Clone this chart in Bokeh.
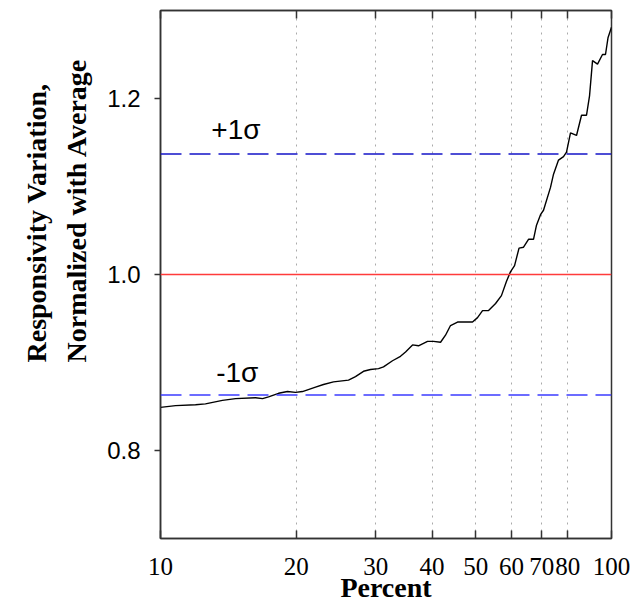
from bokeh.plotting import figure
from bokeh.models import (FixedTicker, PrintfTickFormatter, Span, Label, LogAxis, Range1d, Title)
from bokeh.embed import file_html
from bokeh.resources import INLINE

# ---- data ----
percent = [10.00, 10.80, 11.96, 12.58, 13.72, 14.67, 16.24, 16.84, 17.36, 18.27,
           19.12, 19.93, 20.64, 22.07, 22.98, 24.19, 26.11, 27.06, 28.19, 29.22,
           30.44, 31.22, 32.69, 34.05, 34.94, 36.21, 37.33, 39.09, 40.31, 41.78,
           42.85, 43.96, 45.56, 49.19, 50.46, 51.77, 53.38, 55.33, 57.01, 58.48,
           59.69, 60.96, 62.37, 63.82, 65.46, 67.15, 68.19, 69.60, 70.67, 73.24,
           74.38, 76.30, 78.27, 79.48, 81.11, 83.64, 85.81, 88.03, 89.39, 90.77,
           93.11, 95.51, 96.98, 98.23, 100.0]
responsivity = [0.849, 0.851, 0.852, 0.853, 0.857, 0.859, 0.860, 0.859, 0.861, 0.865,
                0.867, 0.866, 0.867, 0.872, 0.875, 0.878, 0.880, 0.884, 0.890, 0.892,
                0.893, 0.895, 0.902, 0.907, 0.912, 0.920, 0.919, 0.924, 0.924, 0.923,
                0.931, 0.942, 0.946, 0.946, 0.951, 0.959, 0.959, 0.967, 0.976, 0.992,
                1.003, 1.010, 1.030, 1.031, 1.040, 1.040, 1.056, 1.068, 1.073, 1.099,
                1.114, 1.130, 1.134, 1.139, 1.161, 1.158, 1.181, 1.181, 1.203, 1.243,
                1.239, 1.250, 1.250, 1.269, 1.281]
average = 1.0
plus_sigma = 1.137
minus_sigma = 0.863
x_ticks = [10, 20, 30, 40, 50, 60, 70, 80, 100]
grid_ticks = [20, 30, 40, 50, 60, 70, 80]
y_ticks = [0.8, 1.0, 1.2]
x_label = "Percent"
y_label = "Responsivity Variation,\nNormalized with Average"
plus_label = "+1\u03c3"
minus_label = "-1\u03c3"

FRAME = "#333333"

p = figure(width=633, height=605, x_axis_type="log",
           x_range=Range1d(10, 100), y_range=Range1d(0.7, 1.3),
           output_backend="svg", toolbar_location=None,
           min_border_left=160, min_border_right=22,
           min_border_top=10, min_border_bottom=67)
p.background_fill_color = "white"
p.border_fill_color = "white"
p.outline_line_color = FRAME
p.outline_line_width = 1.5

# x axis (bottom)
xa = p.xaxis[0]
xa.ticker = FixedTicker(ticks=x_ticks)
xa.formatter = PrintfTickFormatter(format="%d")
xa.major_tick_in = 8
xa.major_tick_out = 0
xa.minor_tick_in = 0
xa.minor_tick_out = 0
xa.major_tick_line_color = FRAME
xa.major_tick_line_width = 1.5
xa.axis_line_color = FRAME
xa.axis_line_width = 1.5
xa.major_label_text_font = "Liberation Serif"
xa.major_label_text_font_size = "25px"
xa.major_label_text_color = "black"
xa.major_label_standoff = 19
xa.axis_label = x_label
xa.axis_label_text_font = "Liberation Serif"
xa.axis_label_text_font_style = "bold"
xa.axis_label_text_font_size = "28px"
xa.axis_label_text_color = "black"
xa.axis_label_standoff = -6

# top axis: inward ticks only, no labels
top = LogAxis(ticker=FixedTicker(ticks=x_ticks))
top.major_label_overrides = {t: "" for t in x_ticks}
top.major_tick_in = 8
top.major_tick_out = 0
top.minor_tick_in = 0
top.minor_tick_out = 0
top.major_tick_line_color = FRAME
top.major_tick_line_width = 1.5
top.axis_line_color = FRAME
top.axis_line_width = 1.5
top.major_label_standoff = 0
p.add_layout(top, "above")

# y axis
ya = p.yaxis[0]
ya.ticker = FixedTicker(ticks=y_ticks)
ya.formatter = PrintfTickFormatter(format="%.1f")
ya.major_tick_in = 0
ya.major_tick_out = 6
ya.minor_tick_in = 0
ya.minor_tick_out = 0
ya.major_tick_line_color = FRAME
ya.major_tick_line_width = 1.5
ya.axis_line_color = FRAME
ya.axis_line_width = 1.5
ya.major_label_text_font = "Liberation Sans"
ya.major_label_text_font_size = "24px"
ya.major_label_text_color = "black"
ya.major_label_standoff = 14

# y label as a left-side title (two lines, starting at the same height)
ylab = Title(text=y_label, align="left", offset=176, standoff=25,
             text_font="Liberation Serif", text_font_style="bold",
             text_font_size="28px", text_color="black", text_line_height=1.3)
p.add_layout(ylab, "left")

# grid
p.xgrid.ticker = FixedTicker(ticks=grid_ticks)
p.xgrid.grid_line_color = "#aaaaaa"
p.xgrid.grid_line_dash = "2 5"
p.xgrid.grid_line_width = 1
p.ygrid.visible = False

# reference lines
p.add_layout(Span(location=average, dimension="width", line_color="#ff3b3b", line_width=1.6))
p.add_layout(Span(location=plus_sigma, dimension="width", line_color="#1414c8",
                  line_width=1.5, line_dash="21 8"))
p.add_layout(Span(location=minus_sigma, dimension="width", line_color="#3c3cff",
                  line_width=1.5, line_dash="21 8"))

# curve
p.line(percent, responsivity, line_color="black", line_width=1.4)

# sigma labels
p.add_layout(Label(x=14.7, y=1.165, text=plus_label, text_align="center",
                   text_baseline="alphabetic", text_font="Liberation Sans",
                   text_font_size="28px", text_color="black"))
p.add_layout(Label(x=14.8, y=0.889, text=minus_label, text_align="center",
                   text_baseline="alphabetic", text_font="Liberation Sans",
                   text_font_size="28px", text_color="black"))

open("out.html", "w").write(file_html(p, INLINE))
